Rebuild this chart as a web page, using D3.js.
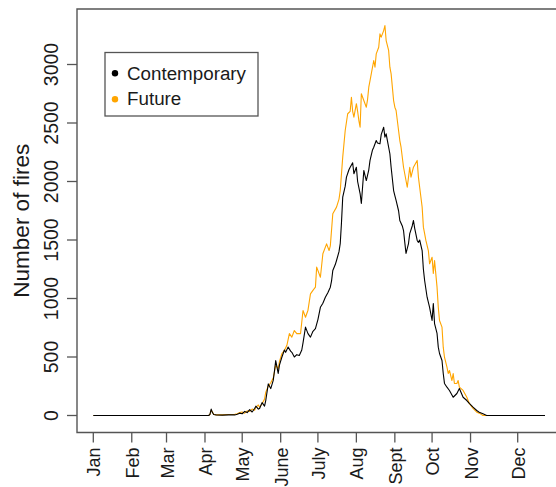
<!DOCTYPE html>
<html>
<head>
<meta charset="utf-8">
<script src="https://cdn.jsdelivr.net/npm/d3@7/dist/d3.min.js"></script>
<style>
  html, body { margin: 0; padding: 0; background: #fff; }
  svg { display: block; }
  text { font-family: "Liberation Sans", Arial, Helvetica, sans-serif; fill: #1a1a1a; }
</style>
</head>
<body>
<svg id="chart" width="556" height="487"></svg>
<script>
// Daily fire counts, [day of year, number of fires]
const contemporary = [
  [1,0],[94,0],[95,10],[96,55],[97,25],[98,8],[100,5],[105,3],[110,5],[115,5],[117,10],
  [119,20],[121,15],[123,35],[125,25],[127,50],[129,30],[131,60],[132,80],[134,55],[135,60],
  [137,110],[139,80],[140,130],[142,270],[144,230],[146,300],[147,380],[148,470],[150,360],
  [151,430],[153,500],[155,560],[156,540],[158,585],[160,550],[161,540],[163,500],[165,520],
  [167,513],[169,560],[170,620],[172,755],[174,700],[176,670],[178,720],[180,743],[182,820],
  [184,925],[186,960],[188,1011],[190,1050],[192,1097],[193,1150],[194,1239],[196,1290],
  [197,1325],[199,1400],[200,1470],[201,1650],[202,1866],[204,1960],[205,2037],[207,2100],
  [208,2122],[210,2160],[211,2066],[213,2122],[214,2000],[216,1897],[217,1812],[219,2094],
  [220,2050],[221,2008],[223,2100],[224,2180],[226,2270],[227,2293],[229,2350],[230,2330],
  [232,2322],[233,2400],[235,2464],[236,2379],[237,2407],[238,2350],[240,2237],[241,2122],
  [243,1923],[244,1880],[245,1838],[247,1750],[248,1667],[250,1620],[251,1581],[252,1480],
  [253,1385],[255,1470],[256,1555],[258,1620],[259,1667],[260,1600],[262,1496],[263,1480],
  [264,1500],[266,1410],[267,1250],[268,1154],[270,1011],[272,925],[274,812],[275,957],
  [276,786],[278,701],[279,584],[280,530],[282,470],[283,359],[284,274],[286,242],[288,214],
  [291,156],[294,188],[296,231],[299,156],[302,128],[304,103],[307,71],[310,43],[312,28],
  [315,14],[318,0],[365,0]
];

const future = [
  [1,0],[94,0],[95,10],[96,45],[97,30],[98,10],[100,5],[105,5],[110,8],[115,10],[117,15],
  [119,25],[121,30],[123,20],[125,40],[127,35],[129,55],[131,45],[132,70],[134,90],[135,70],
  [137,100],[139,140],[140,200],[142,250],[144,280],[146,320],[148,430],[150,400],[151,460],
  [153,530],[155,556],[157,600],[159,700],[161,670],[163,726],[165,700],[168,700],[170,897],
  [172,840],[174,900],[176,1040],[178,1070],[180,1097],[181,1268],[184,1182],[186,1382],
  [189,1467],[191,1410],[192,1450],[194,1724],[197,1781],[199,1850],[200,1923],[202,2208],
  [204,2436],[206,2579],[208,2600],[209,2720],[210,2600],[211,2550],[213,2665],[214,2600],
  [215,2521],[216,2464],[217,2750],[219,2692],[221,2635],[222,2700],[223,2806],[224,2863],
  [225,2920],[227,3034],[228,2977],[229,3091],[231,3148],[232,3262],[233,3234],[235,3290],
  [236,3333],[237,3205],[239,3120],[240,2977],[241,2920],[243,2692],[244,2635],[245,2607],
  [247,2436],[248,2350],[249,2293],[251,2122],[254,1951],[256,2122],[257,2037],[259,2122],
  [262,2180],[263,2037],[264,1951],[266,1781],[267,1610],[268,1555],[269,1496],[271,1410],
  [272,1297],[274,1353],[275,1214],[276,1325],[278,1097],[279,925],[280,812],[282,755],
  [283,584],[284,498],[286,413],[287,359],[288,385],[290,299],[291,359],[292,274],[294,274],
  [295,299],[296,242],[299,214],[302,156],[304,103],[307,60],[310,28],[313,14],[315,0],[365,0]
];

const yTickValues = [0, 500, 1000, 1500, 2000, 2500, 3000];
const monthLabels = ["Jan","Feb","Mar","Apr","May","June","July","Aug","Sept","Oct","Nov","Dec"];
const monthTickDays = [1, 32, 60, 91, 121, 152, 182, 213, 244, 274, 305, 343];
const seriesNames = ["Contemporary", "Future"];
const seriesColors = ["#000000", "#FFA500"];

const svg = d3.select("#chart");

// Plot frame (right side runs past the visible area)
const frame = { left: 77, top: 9, right: 564, bottom: 432.5 };

const x = d3.scaleLinear().domain([1, 365]).range([93.3, 545]);
const y = d3.scaleLinear().domain([0, 3000]).range([415.5, 64.5]);

svg.append("path")
  .attr("d", `M${frame.right},${frame.top}H${frame.left}V${frame.bottom}H${frame.right}`)
  .attr("fill", "none")
  .attr("stroke", "#555")
  .attr("stroke-width", 1.4);

// Y axis ticks and rotated labels
const yAxis = svg.append("g");
yAxis.selectAll("line").data(yTickValues).join("line")
  .attr("x1", frame.left - 10).attr("x2", frame.left)
  .attr("y1", d => y(d)).attr("y2", d => y(d))
  .attr("stroke", "#555").attr("stroke-width", 1.3);
yAxis.selectAll("text").data(yTickValues).join("text")
  .attr("transform", d => `translate(57.5,${y(d)}) rotate(-90)`)
  .attr("text-anchor", "middle")
  .style("font-size", "19.5px")
  .text(d => d);

// X axis ticks and rotated month labels
const xAxis = svg.append("g");
xAxis.selectAll("line").data(monthTickDays).join("line")
  .attr("x1", d => x(d)).attr("x2", d => x(d))
  .attr("y1", frame.bottom).attr("y2", frame.bottom + 10)
  .attr("stroke", "#555").attr("stroke-width", 1.3);
xAxis.selectAll("text").data(monthLabels).join("text")
  .attr("transform", (d, i) => `translate(${x(monthTickDays[i]) + 7},447.5) rotate(-90)`)
  .attr("text-anchor", "end")
  .style("font-size", "18px")
  .text(d => d);

// Y axis title
svg.append("text")
  .attr("transform", `translate(29,${(frame.top + frame.bottom) / 2}) rotate(-90)`)
  .attr("text-anchor", "middle")
  .style("font-size", "22.5px")
  .text("Number of fires");

// Series lines: future underneath, contemporary on top
const line = d3.line().x(d => x(d[0])).y(d => y(d[1]));
[future, contemporary].forEach((series, k) => {
  svg.append("path")
    .datum(series)
    .attr("d", line)
    .attr("fill", "none")
    .attr("stroke", seriesColors[1 - k])
    .attr("stroke-width", 1.1)
    .attr("stroke-linejoin", "round");
});

// Legend
const legend = svg.append("g");
legend.append("rect")
  .attr("x", 105).attr("y", 52.5).attr("width", 153).attr("height", 63.5)
  .attr("fill", "#fff").attr("stroke", "#555").attr("stroke-width", 1.3);
seriesNames.forEach((name, i) => {
  legend.append("circle")
    .attr("cx", 115).attr("cy", 73.3 + i * 26)
    .attr("r", 3.2).attr("fill", seriesColors[i]);
  legend.append("text")
    .attr("x", 127).attr("y", 79.8 + i * 25.5)
    .style("font-size", "18.8px")
    .text(name);
});
</script>
</body>
</html>
